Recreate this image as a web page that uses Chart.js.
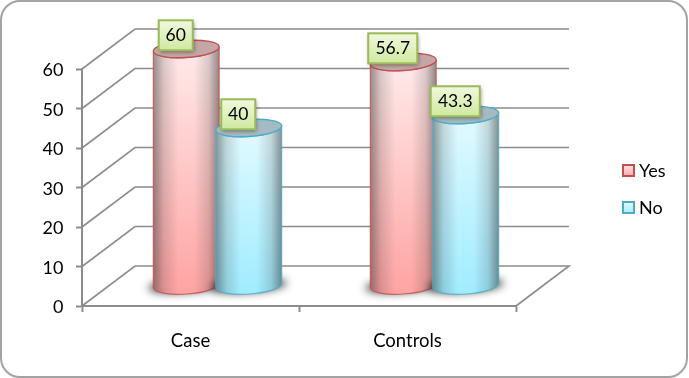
<!DOCTYPE html>
<html><head><meta charset="utf-8">
<style>html,body{margin:0;padding:0;background:#fff}canvas{display:block}</style>
<script src="https://cdn.jsdelivr.net/npm/chart.js@4"></script>
</head><body><div style="width:689px;height:378px"><canvas id="c" width="689" height="378"></canvas></div>
<script>
const categories = ["Case", "Controls"];
const yesValues = [60, 56.7];
const noValues = [40, 43.3];
const yTicks = [0, 10, 20, 30, 40, 50, 60];

const FONT = 'Lato, "Open Sans", sans-serif';
const GRID = '#8c8c8c';
const BACK = {dx: 53, dy: -40};
const MID = {dx: 27, dy: -20};
const RY = 8.5, TILT = -4 * Math.PI / 180;
const LOOK = {
  Yes: {top: '#ffeaea', bottom: '#ffa3a3', cap: '#c4a6a6', line: '#c0504d', swatchA:'#ffe3e3', swatchB:'#ffa8a8'},
  No:  {top: '#e2faff', bottom: '#a0ecff', cap: '#a5bac1', line: '#4bacc6', swatchA:'#e3f9ff', swatchB:'#a8ecff'}
};

function cylinder(ctx, cx, yTop, yBase, r, c) {
  const sx = r * Math.cos(TILT), sy = r * Math.sin(TILT);
  // soft ground shadow: the shape itself is drawn off-canvas, only its blur lands here
  ctx.save();
  ctx.shadowColor = 'rgba(0,0,0,0.8)'; ctx.shadowBlur = 9; ctx.shadowOffsetX = 2000;
  ctx.fillStyle = '#000';
  ctx.beginPath(); ctx.ellipse(cx - 2000, yBase, r + 5, RY - 2, TILT, 0, Math.PI * 2); ctx.fill();
  ctx.restore();
  const body = new Path2D();
  body.moveTo(cx + sx, yTop + sy);
  body.lineTo(cx + sx, yBase + sy);
  body.ellipse(cx, yBase, r, RY, TILT, 0, Math.PI);
  body.lineTo(cx - sx, yTop - sy);
  body.ellipse(cx, yTop, r, RY, TILT, Math.PI, 0, true);
  body.closePath();
  const v = ctx.createLinearGradient(0, yTop, 0, yBase + RY);
  v.addColorStop(0, c.top); v.addColorStop(1, c.bottom);
  ctx.fillStyle = v; ctx.fill(body);
  const h = ctx.createLinearGradient(cx - r, 0, cx + r, 0);
  h.addColorStop(0, 'rgba(40,40,40,0.48)');
  h.addColorStop(0.16, 'rgba(40,40,40,0.17)');
  h.addColorStop(0.38, 'rgba(40,40,40,0)');
  h.addColorStop(0.62, 'rgba(40,40,40,0)');
  h.addColorStop(0.84, 'rgba(40,40,40,0.17)');
  h.addColorStop(1, 'rgba(40,40,40,0.5)');
  ctx.fillStyle = h; ctx.fill(body);
  ctx.strokeStyle = c.line; ctx.lineWidth = 1.2; ctx.globalAlpha = 0.8; ctx.stroke(body); ctx.globalAlpha = 1;
  ctx.beginPath(); ctx.ellipse(cx, yTop, r, RY, TILT, 0, Math.PI * 2);
  ctx.fillStyle = c.cap; ctx.fill();
  ctx.strokeStyle = c.line; ctx.lineWidth = 1.4; ctx.stroke();
}

const scene = {
  id: 'scene',
  beforeDraw(chart) {
    const ctx = chart.ctx;
    ctx.save();
    ctx.fillStyle = '#fff'; ctx.fillRect(0, 0, chart.width, chart.height);
    ctx.strokeStyle = '#a3a3a3'; ctx.lineWidth = 2;
    ctx.beginPath(); ctx.roundRect(1, 1, 686, 376, 19); ctx.stroke();
    ctx.restore();
  },
  beforeDatasetsDraw(chart) {
    const ctx = chart.ctx, y = chart.scales.y, a = chart.chartArea;
    ctx.save();
    ctx.strokeStyle = GRID; ctx.lineWidth = 1.6;
    yTicks.forEach(t => {
      const p = y.getPixelForValue(t);
      ctx.beginPath();
      ctx.moveTo(a.left, p);
      ctx.lineTo(a.left + BACK.dx, p + BACK.dy);
      ctx.lineTo(a.right + BACK.dx, p + BACK.dy);
      if (t === 0) ctx.lineTo(a.right, p);
      ctx.stroke();
    });
    ctx.restore();
  },
  afterDatasetsDraw(chart) {
    const ctx = chart.ctx;
    chart.data.datasets.forEach((ds, i) => {
      chart.getDatasetMeta(i).data.forEach(el => {
        cylinder(ctx, el.x + MID.dx, el.y + MID.dy, el.base + MID.dy, el.width / 2, LOOK[ds.label]);
      });
    });
    // value labels
    ctx.save();
    ctx.font = '17.5px ' + FONT; ctx.textAlign = 'center'; ctx.textBaseline = 'middle';
    chart.data.datasets.forEach((ds, i) => {
      chart.getDatasetMeta(i).data.forEach((el, j) => {
        const txt = String(ds.data[j]);
        const w = txt.length > 2 ? 49 : 34, bh = 30;
        const cx = el.x + MID.dx - 10.5, cy = el.y + MID.dy - 13.7;
        const x0 = cx - w / 2, y0 = cy - bh / 2;
        ctx.save();
        ctx.shadowColor = 'rgba(0,0,0,0.45)'; ctx.shadowBlur = 4; ctx.shadowOffsetX = 1; ctx.shadowOffsetY = 2;
        const g = ctx.createLinearGradient(0, y0, 0, y0 + bh);
        g.addColorStop(0, '#f1f9dd'); g.addColorStop(1, '#cfe8a0');
        ctx.fillStyle = g; ctx.fillRect(x0, y0, w, bh);
        ctx.restore();
        ctx.strokeStyle = '#9bbb59'; ctx.lineWidth = 2; ctx.strokeRect(x0, y0, w, bh);
        ctx.fillStyle = '#000'; ctx.fillText(txt, cx, cy + 0.5);
      });
    });
    ctx.restore();
    // legend
    ctx.save();
    ctx.font = '18px ' + FONT; ctx.textAlign = 'left'; ctx.textBaseline = 'middle';
    chart.data.datasets.forEach((ds, i) => {
      const c = LOOK[ds.label], top = 165 + i * 37;
      const g = ctx.createLinearGradient(0, top, 0, top + 11);
      g.addColorStop(0, c.swatchA); g.addColorStop(1, c.swatchB);
      ctx.fillStyle = g; ctx.fillRect(623, top, 11, 11);
      ctx.strokeStyle = c.line; ctx.lineWidth = 2; ctx.strokeRect(623, top, 11, 11);
      ctx.fillStyle = '#000'; ctx.fillText(ds.label, 639, top + 6);
    });
    ctx.restore();
  }
};

new Chart(document.getElementById('c'), {
  type: 'bar',
  data: {
    labels: categories,
    datasets: [
      {label: 'Yes', data: yesValues, backgroundColor: 'rgba(0,0,0,0)', borderWidth: 0, categoryPercentage: 0.576, barPercentage: 1.056},
      {label: 'No', data: noValues, backgroundColor: 'rgba(0,0,0,0)', borderWidth: 0, categoryPercentage: 0.576, barPercentage: 1.056}
    ]
  },
  plugins: [scene],
  options: {
    responsive: false,
    animation: false,
    layout: {autoPadding: false, padding: {top: 69, right: 173, bottom: 0, left: 0}},
    plugins: {legend: {display: false}, title: {display: false}, tooltip: {enabled: false}},
    scales: {
      x: {
        afterFit(s) { s.height = 72; },
        grid: {drawOnChartArea: false, offset: true, tickLength: 6, tickColor: GRID, tickWidth: 2},
        border: {color: GRID, width: 2},
        ticks: {color: '#000', font: {family: FONT, size: 18.5}, padding: 18, maxRotation: 0}
      },
      y: {
        min: 0, max: 60,
        afterFit(s) { s.width = 82; },
        afterBuildTicks(s) { s.ticks = yTicks.map(v => ({value: v})); },
        grid: {drawOnChartArea: false, tickLength: 6, tickColor: GRID, tickWidth: 2},
        border: {color: GRID, width: 2},
        ticks: {color: '#000', font: {family: FONT, size: 18}, padding: 12.5, labelOffset: 1.5}
      }
    }
  }
});
</script></body></html>
